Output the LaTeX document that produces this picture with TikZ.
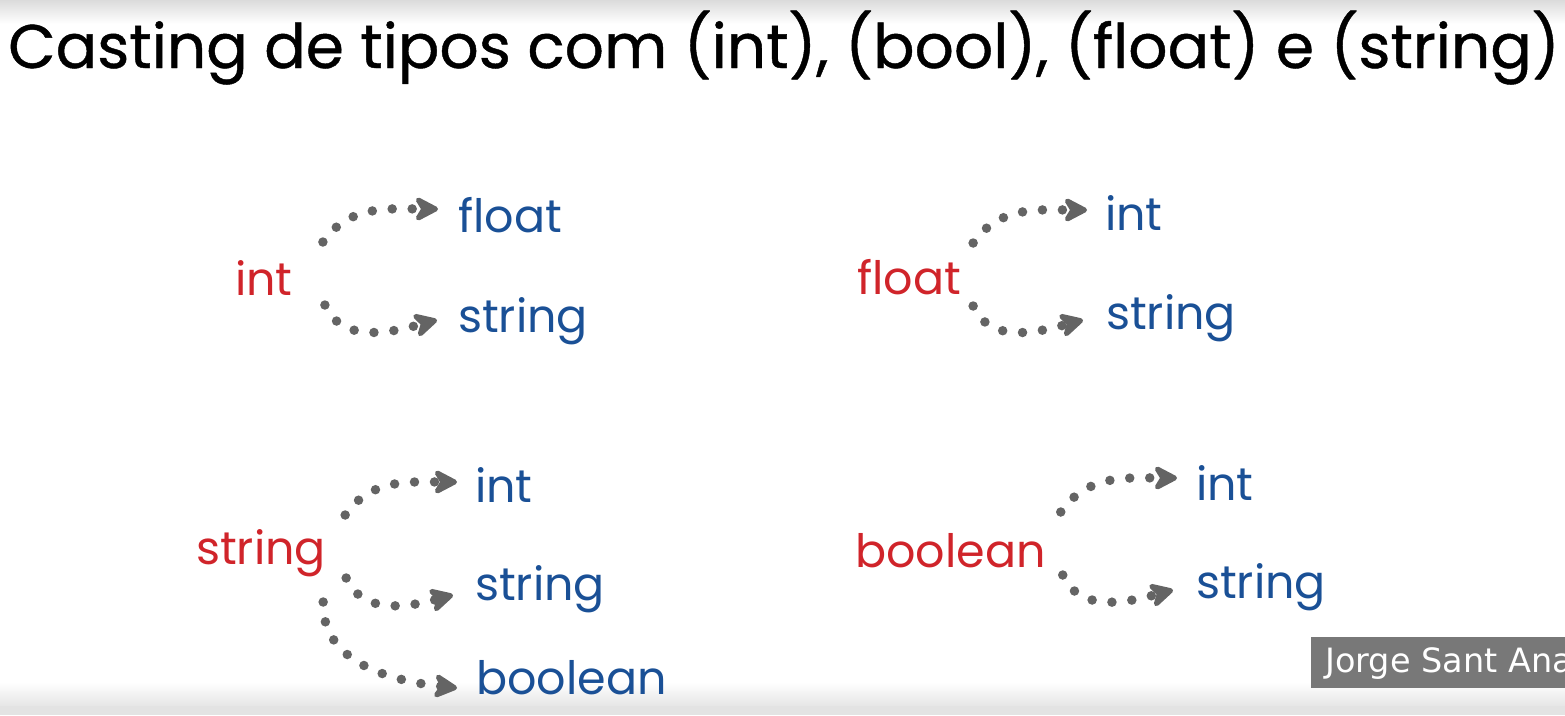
\documentclass[tikz,border=0pt]{standalone}
\usepackage{fontspec}
\setmainfont{Poppins}
\newfontfamily\titlefont[FakeBold=0.7]{Poppins}
\newfontfamily\markfont{DejaVu Sans}
\usepackage{xcolor}
\usetikzlibrary{arrows.meta}
\definecolor{castred}{RGB}{208,36,42}
\definecolor{castblue}{RGB}{26,80,150}
\definecolor{dotgray}{RGB}{100,100,100}
\definecolor{markgray}{RGB}{120,120,120}

\tikzset{
    src/.style={anchor=base west, inner sep=0pt, text=castred, font=\fontsize{46}{50}\selectfont},
    dst/.style={anchor=base west, inner sep=0pt, text=castblue, font=\fontsize{46}{50}\selectfont},
    cast/.style={draw=dotgray, line width=9.5pt, line cap=round, dash pattern=on 0pt off 20pt,
        -{Stealth[length=29pt, width=30pt, inset=9pt, round]}}
}

\begin{document}
\begin{tikzpicture}[x=1pt, y=1pt]
    \useasboundingbox (0,0) rectangle (1565,-715);
    % fundo
    \shade[top color=black!14, bottom color=white] (0,0) rectangle (1565,-24);
    \shade[top color=white, bottom color=black!10] (0,-682) rectangle (1565,-706);
    \fill[black!11] (0,-706) rectangle (1565,-715);

    \node[anchor=base west, inner sep=0pt, font=\titlefont\fontsize{61.5}{66}\selectfont] (titulo) at (8,-68)
        {Casting de tipos com (int), (bool), (float) e (string)};

    % int
    \node[src] (int) at (235,-295) {int};
    \node[dst] (intfloat) at (458,-232) {float};
    \node[dst] (intstring) at (458,-332) {string};
    \draw[cast] ([shift={(30,53)}]int.base east) to[out=55, in=180] ([shift={(-20,23)}]intfloat.base west);
    \draw[cast] ([shift={(32,-10)}]int.base east) to[out=-66, in=195] ([shift={(-21,12)}]intstring.base west);

    % float
    \node[src] (float) at (857,-294) {float};
    \node[dst] (floatint) at (1105,-230) {int};
    \node[dst] (floatstring) at (1106,-329) {string};
    \draw[cast] ([shift={(12,51)}]float.base east) to[out=55, in=180] ([shift={(-18,20)}]floatint.base west);
    \draw[cast] ([shift={(12,-12)}]float.base east) to[out=-66, in=195] ([shift={(-23,9)}]floatstring.base west);

    % string
    \node[src] (string) at (196,-564) {string};
    \node[dst] (stringint) at (475,-502) {int};
    \node[dst] (stringstring) at (475,-600) {string};
    \node[dst] (stringbool) at (476,-694) {boolean};
    \draw[cast] ([shift={(19,49)}]string.base east) to[out=55, in=180] ([shift={(-18,20)}]stringint.base west);
    \draw[cast] ([shift={(20,-14)}]string.base east) to[out=-66, in=195] ([shift={(-22,5)}]stringstring.base west);
    \draw[cast] ([shift={(-3,-38)}]string.base east) to[out=-92, in=174] ([shift={(-19,6)}]stringbool.base west);

    % boolean
    \node[src] (bool) at (855,-567) {boolean};
    \node[dst] (boolint) at (1196,-500) {int};
    \node[dst] (boolstring) at (1196,-598) {string};
    \draw[cast] ([shift={(15,55)}]bool.base east) to[out=55, in=180] ([shift={(-19,22)}]boolint.base west);
    \draw[cast] ([shift={(17,-8)}]bool.base east) to[out=-66, in=195] ([shift={(-23,8)}]boolstring.base west);

    % marca
    \fill[markgray] (1311,-637) rectangle (1565,-688);
    \node[anchor=base west, inner sep=0pt, text=white, font=\markfont\fontsize{33.5}{36}\selectfont] (marca) at (1325,-672) {Jorge Sant Ana};
\end{tikzpicture}
\end{document}
